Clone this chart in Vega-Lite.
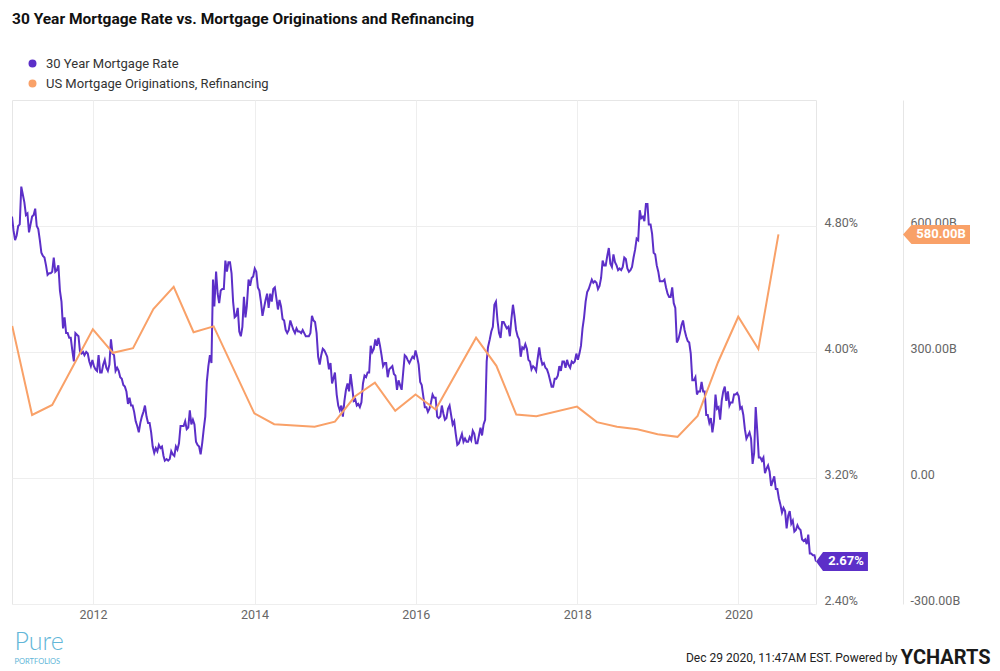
{
  "$schema": "https://vega.github.io/schema/vega-lite/v6.json",
  "width": 804,
  "height": 504,
  "autosize": {"type": "none"},
  "padding": {"left": 12, "top": 100, "right": 184, "bottom": 67},
  "background": "white",
  "config": {
    "view": {"stroke": "#e6e6e6", "strokeWidth": 1},
    "font": "Roboto"
  },
  "title": {
    "text": "30 Year Mortgage Rate vs. Mortgage Originations and Refinancing",
    "anchor": "start",
    "frame": "group",
    "font": "Roboto",
    "fontSize": 15.5,
    "fontWeight": "bold",
    "color": "#111111",
    "offset": 30
  },
  "datasets": {
    "rate": [
      {"date":"2010-12-30","rate":4.86},
      {"date":"2011-01-06","rate":4.77},{"date":"2011-01-13","rate":4.71},{"date":"2011-01-20","rate":4.74},{"date":"2011-01-27","rate":4.80},
      {"date":"2011-02-03","rate":4.81},{"date":"2011-02-10","rate":5.05},{"date":"2011-02-17","rate":5.00},{"date":"2011-02-24","rate":4.95},
      {"date":"2011-03-03","rate":4.87},{"date":"2011-03-10","rate":4.88},{"date":"2011-03-17","rate":4.76},{"date":"2011-03-24","rate":4.81},{"date":"2011-03-31","rate":4.86},
      {"date":"2011-04-07","rate":4.87},{"date":"2011-04-14","rate":4.91},{"date":"2011-04-21","rate":4.80},{"date":"2011-04-28","rate":4.78},
      {"date":"2011-05-05","rate":4.71},{"date":"2011-05-12","rate":4.63},{"date":"2011-05-19","rate":4.61},{"date":"2011-05-26","rate":4.60},
      {"date":"2011-06-02","rate":4.55},{"date":"2011-06-09","rate":4.49},{"date":"2011-06-16","rate":4.50},{"date":"2011-06-23","rate":4.50},{"date":"2011-06-30","rate":4.51},
      {"date":"2011-07-07","rate":4.60},{"date":"2011-07-14","rate":4.51},{"date":"2011-07-21","rate":4.52},{"date":"2011-07-28","rate":4.55},
      {"date":"2011-08-04","rate":4.39},{"date":"2011-08-11","rate":4.32},{"date":"2011-08-18","rate":4.15},{"date":"2011-08-25","rate":4.22},
      {"date":"2011-09-01","rate":4.12},{"date":"2011-09-08","rate":4.12},{"date":"2011-09-15","rate":4.09},{"date":"2011-09-22","rate":4.09},{"date":"2011-09-29","rate":4.01},
      {"date":"2011-10-06","rate":3.94},{"date":"2011-10-13","rate":4.12},{"date":"2011-10-20","rate":4.11},{"date":"2011-10-27","rate":4.10},
      {"date":"2011-11-03","rate":4.00},{"date":"2011-11-10","rate":3.99},{"date":"2011-11-17","rate":4.00},{"date":"2011-11-23","rate":3.98},
      {"date":"2011-12-01","rate":4.00},{"date":"2011-12-08","rate":3.99},{"date":"2011-12-15","rate":3.94},{"date":"2011-12-22","rate":3.91},{"date":"2011-12-29","rate":3.95},
      {"date":"2012-01-05","rate":3.91},{"date":"2012-01-12","rate":3.89},{"date":"2012-01-19","rate":3.88},{"date":"2012-01-26","rate":3.98},
      {"date":"2012-02-02","rate":3.87},{"date":"2012-02-09","rate":3.87},{"date":"2012-02-16","rate":3.92},{"date":"2012-02-23","rate":3.95},
      {"date":"2012-03-01","rate":3.90},{"date":"2012-03-08","rate":3.88},{"date":"2012-03-15","rate":3.92},{"date":"2012-03-22","rate":4.08},{"date":"2012-03-29","rate":3.99},
      {"date":"2012-04-05","rate":3.98},{"date":"2012-04-12","rate":3.88},{"date":"2012-04-19","rate":3.90},{"date":"2012-04-26","rate":3.88},
      {"date":"2012-05-03","rate":3.84},{"date":"2012-05-10","rate":3.83},{"date":"2012-05-17","rate":3.79},{"date":"2012-05-24","rate":3.78},{"date":"2012-05-31","rate":3.75},
      {"date":"2012-06-07","rate":3.67},{"date":"2012-06-14","rate":3.71},{"date":"2012-06-21","rate":3.66},{"date":"2012-06-28","rate":3.66},
      {"date":"2012-07-05","rate":3.62},{"date":"2012-07-12","rate":3.56},{"date":"2012-07-19","rate":3.53},{"date":"2012-07-26","rate":3.49},
      {"date":"2012-08-02","rate":3.55},{"date":"2012-08-09","rate":3.59},{"date":"2012-08-16","rate":3.62},{"date":"2012-08-23","rate":3.66},{"date":"2012-08-30","rate":3.59},
      {"date":"2012-09-06","rate":3.55},{"date":"2012-09-13","rate":3.55},{"date":"2012-09-20","rate":3.49},{"date":"2012-09-27","rate":3.40},
      {"date":"2012-10-04","rate":3.36},{"date":"2012-10-11","rate":3.39},{"date":"2012-10-18","rate":3.37},{"date":"2012-10-25","rate":3.41},
      {"date":"2012-11-01","rate":3.39},{"date":"2012-11-08","rate":3.40},{"date":"2012-11-15","rate":3.34},{"date":"2012-11-21","rate":3.31},{"date":"2012-11-29","rate":3.32},
      {"date":"2012-12-06","rate":3.31},{"date":"2012-12-13","rate":3.32},{"date":"2012-12-20","rate":3.37},{"date":"2012-12-27","rate":3.35},
      {"date":"2013-01-03","rate":3.34},{"date":"2013-01-10","rate":3.40},{"date":"2013-01-17","rate":3.38},{"date":"2013-01-24","rate":3.42},{"date":"2013-01-31","rate":3.53},
      {"date":"2013-02-07","rate":3.53},{"date":"2013-02-14","rate":3.53},{"date":"2013-02-21","rate":3.56},{"date":"2013-02-28","rate":3.51},
      {"date":"2013-03-07","rate":3.52},{"date":"2013-03-14","rate":3.63},{"date":"2013-03-21","rate":3.54},{"date":"2013-03-28","rate":3.57},
      {"date":"2013-04-04","rate":3.54},{"date":"2013-04-11","rate":3.43},{"date":"2013-04-18","rate":3.41},{"date":"2013-04-25","rate":3.40},
      {"date":"2013-05-02","rate":3.35},{"date":"2013-05-09","rate":3.42},{"date":"2013-05-16","rate":3.51},{"date":"2013-05-23","rate":3.59},{"date":"2013-05-30","rate":3.81},
      {"date":"2013-06-06","rate":3.91},{"date":"2013-06-13","rate":3.98},{"date":"2013-06-20","rate":3.93},{"date":"2013-06-27","rate":4.46},
      {"date":"2013-07-03","rate":4.29},{"date":"2013-07-11","rate":4.51},{"date":"2013-07-18","rate":4.37},{"date":"2013-07-25","rate":4.31},
      {"date":"2013-08-01","rate":4.39},{"date":"2013-08-08","rate":4.40},{"date":"2013-08-15","rate":4.40},{"date":"2013-08-22","rate":4.58},{"date":"2013-08-29","rate":4.51},
      {"date":"2013-09-05","rate":4.57},{"date":"2013-09-12","rate":4.57},{"date":"2013-09-19","rate":4.50},{"date":"2013-09-26","rate":4.32},
      {"date":"2013-10-03","rate":4.22},{"date":"2013-10-10","rate":4.23},{"date":"2013-10-17","rate":4.28},{"date":"2013-10-24","rate":4.13},{"date":"2013-10-31","rate":4.10},
      {"date":"2013-11-07","rate":4.16},{"date":"2013-11-14","rate":4.35},{"date":"2013-11-21","rate":4.22},{"date":"2013-11-27","rate":4.29},
      {"date":"2013-12-05","rate":4.46},{"date":"2013-12-12","rate":4.42},{"date":"2013-12-19","rate":4.47},{"date":"2013-12-26","rate":4.48},
      {"date":"2014-01-02","rate":4.53},{"date":"2014-01-09","rate":4.51},{"date":"2014-01-16","rate":4.41},{"date":"2014-01-23","rate":4.39},{"date":"2014-01-30","rate":4.32},
      {"date":"2014-02-06","rate":4.23},{"date":"2014-02-13","rate":4.28},{"date":"2014-02-20","rate":4.33},{"date":"2014-02-27","rate":4.37},
      {"date":"2014-03-06","rate":4.28},{"date":"2014-03-13","rate":4.37},{"date":"2014-03-20","rate":4.32},{"date":"2014-03-27","rate":4.40},
      {"date":"2014-04-03","rate":4.41},{"date":"2014-04-10","rate":4.34},{"date":"2014-04-17","rate":4.27},{"date":"2014-04-24","rate":4.33},
      {"date":"2014-05-01","rate":4.29},{"date":"2014-05-08","rate":4.21},{"date":"2014-05-15","rate":4.20},{"date":"2014-05-22","rate":4.14},{"date":"2014-05-29","rate":4.12},
      {"date":"2014-06-05","rate":4.14},{"date":"2014-06-12","rate":4.20},{"date":"2014-06-19","rate":4.17},{"date":"2014-06-26","rate":4.14},
      {"date":"2014-07-03","rate":4.12},{"date":"2014-07-10","rate":4.15},{"date":"2014-07-17","rate":4.13},{"date":"2014-07-24","rate":4.13},{"date":"2014-07-31","rate":4.12},
      {"date":"2014-08-07","rate":4.14},{"date":"2014-08-14","rate":4.12},{"date":"2014-08-21","rate":4.10},{"date":"2014-08-28","rate":4.10},
      {"date":"2014-09-04","rate":4.10},{"date":"2014-09-11","rate":4.12},{"date":"2014-09-18","rate":4.23},{"date":"2014-09-25","rate":4.20},
      {"date":"2014-10-02","rate":4.19},{"date":"2014-10-09","rate":4.12},{"date":"2014-10-16","rate":3.97},{"date":"2014-10-23","rate":3.92},{"date":"2014-10-30","rate":3.98},
      {"date":"2014-11-06","rate":4.02},{"date":"2014-11-13","rate":4.01},{"date":"2014-11-20","rate":3.99},{"date":"2014-11-26","rate":3.97},
      {"date":"2014-12-04","rate":3.89},{"date":"2014-12-11","rate":3.93},{"date":"2014-12-18","rate":3.80},{"date":"2014-12-24","rate":3.83},{"date":"2014-12-31","rate":3.87},
      {"date":"2015-01-08","rate":3.73},{"date":"2015-01-15","rate":3.66},{"date":"2015-01-22","rate":3.63},{"date":"2015-01-29","rate":3.66},
      {"date":"2015-02-05","rate":3.59},{"date":"2015-02-12","rate":3.69},{"date":"2015-02-19","rate":3.76},{"date":"2015-02-26","rate":3.80},
      {"date":"2015-03-05","rate":3.75},{"date":"2015-03-12","rate":3.86},{"date":"2015-03-19","rate":3.78},{"date":"2015-03-26","rate":3.69},
      {"date":"2015-04-02","rate":3.70},{"date":"2015-04-09","rate":3.66},{"date":"2015-04-16","rate":3.67},{"date":"2015-04-23","rate":3.65},{"date":"2015-04-30","rate":3.68},
      {"date":"2015-05-07","rate":3.80},{"date":"2015-05-14","rate":3.85},{"date":"2015-05-21","rate":3.84},{"date":"2015-05-28","rate":3.87},
      {"date":"2015-06-04","rate":3.87},{"date":"2015-06-11","rate":4.04},{"date":"2015-06-18","rate":4.00},{"date":"2015-06-25","rate":4.02},
      {"date":"2015-07-02","rate":4.08},{"date":"2015-07-09","rate":4.04},{"date":"2015-07-16","rate":4.09},{"date":"2015-07-23","rate":4.04},{"date":"2015-07-30","rate":3.98},
      {"date":"2015-08-06","rate":3.91},{"date":"2015-08-13","rate":3.93},{"date":"2015-08-20","rate":3.93},{"date":"2015-08-27","rate":3.84},
      {"date":"2015-09-03","rate":3.89},{"date":"2015-09-10","rate":3.90},{"date":"2015-09-17","rate":3.91},{"date":"2015-09-24","rate":3.86},
      {"date":"2015-10-01","rate":3.85},{"date":"2015-10-08","rate":3.76},{"date":"2015-10-15","rate":3.82},{"date":"2015-10-22","rate":3.79},{"date":"2015-10-29","rate":3.76},
      {"date":"2015-11-05","rate":3.87},{"date":"2015-11-12","rate":3.98},{"date":"2015-11-19","rate":3.97},{"date":"2015-11-25","rate":3.95},
      {"date":"2015-12-03","rate":3.93},{"date":"2015-12-10","rate":3.95},{"date":"2015-12-17","rate":3.97},{"date":"2015-12-24","rate":3.96},{"date":"2015-12-31","rate":4.01},
      {"date":"2016-01-07","rate":3.97},{"date":"2016-01-14","rate":3.92},{"date":"2016-01-21","rate":3.81},{"date":"2016-01-28","rate":3.79},
      {"date":"2016-02-04","rate":3.72},{"date":"2016-02-11","rate":3.65},{"date":"2016-02-18","rate":3.65},{"date":"2016-02-25","rate":3.62},
      {"date":"2016-03-03","rate":3.64},{"date":"2016-03-10","rate":3.68},{"date":"2016-03-17","rate":3.73},{"date":"2016-03-24","rate":3.71},{"date":"2016-03-31","rate":3.71},
      {"date":"2016-04-07","rate":3.59},{"date":"2016-04-14","rate":3.58},{"date":"2016-04-21","rate":3.59},{"date":"2016-04-28","rate":3.66},
      {"date":"2016-05-05","rate":3.61},{"date":"2016-05-12","rate":3.57},{"date":"2016-05-19","rate":3.58},{"date":"2016-05-26","rate":3.64},
      {"date":"2016-06-02","rate":3.66},{"date":"2016-06-09","rate":3.60},{"date":"2016-06-16","rate":3.54},{"date":"2016-06-23","rate":3.56},{"date":"2016-06-30","rate":3.48},
      {"date":"2016-07-07","rate":3.41},{"date":"2016-07-14","rate":3.42},{"date":"2016-07-21","rate":3.45},{"date":"2016-07-28","rate":3.48},
      {"date":"2016-08-04","rate":3.43},{"date":"2016-08-11","rate":3.45},{"date":"2016-08-18","rate":3.43},{"date":"2016-08-25","rate":3.43},
      {"date":"2016-09-01","rate":3.46},{"date":"2016-09-08","rate":3.44},{"date":"2016-09-15","rate":3.50},{"date":"2016-09-22","rate":3.48},{"date":"2016-09-29","rate":3.42},
      {"date":"2016-10-06","rate":3.42},{"date":"2016-10-13","rate":3.47},{"date":"2016-10-20","rate":3.52},{"date":"2016-10-27","rate":3.47},
      {"date":"2016-11-03","rate":3.54},{"date":"2016-11-10","rate":3.57},{"date":"2016-11-17","rate":3.94},{"date":"2016-11-23","rate":4.03},
      {"date":"2016-12-01","rate":4.08},{"date":"2016-12-08","rate":4.13},{"date":"2016-12-15","rate":4.16},{"date":"2016-12-22","rate":4.30},{"date":"2016-12-29","rate":4.32},
      {"date":"2017-01-05","rate":4.20},{"date":"2017-01-12","rate":4.12},{"date":"2017-01-19","rate":4.09},{"date":"2017-01-26","rate":4.19},
      {"date":"2017-02-02","rate":4.19},{"date":"2017-02-09","rate":4.17},{"date":"2017-02-16","rate":4.15},{"date":"2017-02-23","rate":4.16},
      {"date":"2017-03-02","rate":4.10},{"date":"2017-03-09","rate":4.21},{"date":"2017-03-16","rate":4.30},{"date":"2017-03-23","rate":4.23},{"date":"2017-03-30","rate":4.14},
      {"date":"2017-04-06","rate":4.10},{"date":"2017-04-13","rate":4.08},{"date":"2017-04-20","rate":3.97},{"date":"2017-04-27","rate":4.03},
      {"date":"2017-05-04","rate":4.02},{"date":"2017-05-11","rate":4.05},{"date":"2017-05-18","rate":4.02},{"date":"2017-05-25","rate":3.95},
      {"date":"2017-06-01","rate":3.94},{"date":"2017-06-08","rate":3.89},{"date":"2017-06-15","rate":3.91},{"date":"2017-06-22","rate":3.90},{"date":"2017-06-29","rate":3.88},
      {"date":"2017-07-06","rate":3.96},{"date":"2017-07-13","rate":4.03},{"date":"2017-07-20","rate":3.96},{"date":"2017-07-27","rate":3.92},
      {"date":"2017-08-03","rate":3.93},{"date":"2017-08-10","rate":3.90},{"date":"2017-08-17","rate":3.89},{"date":"2017-08-24","rate":3.86},{"date":"2017-08-31","rate":3.82},
      {"date":"2017-09-07","rate":3.78},{"date":"2017-09-14","rate":3.78},{"date":"2017-09-21","rate":3.83},{"date":"2017-09-28","rate":3.83},
      {"date":"2017-10-05","rate":3.85},{"date":"2017-10-12","rate":3.91},{"date":"2017-10-19","rate":3.88},{"date":"2017-10-26","rate":3.94},
      {"date":"2017-11-02","rate":3.94},{"date":"2017-11-09","rate":3.90},{"date":"2017-11-16","rate":3.95},{"date":"2017-11-22","rate":3.92},{"date":"2017-11-30","rate":3.90},
      {"date":"2017-12-07","rate":3.94},{"date":"2017-12-14","rate":3.93},{"date":"2017-12-21","rate":3.94},{"date":"2017-12-28","rate":3.99},
      {"date":"2018-01-04","rate":3.95},{"date":"2018-01-11","rate":3.99},{"date":"2018-01-18","rate":4.04},{"date":"2018-01-25","rate":4.15},
      {"date":"2018-02-01","rate":4.22},{"date":"2018-02-08","rate":4.32},{"date":"2018-02-15","rate":4.38},{"date":"2018-02-22","rate":4.40},
      {"date":"2018-03-01","rate":4.43},{"date":"2018-03-08","rate":4.46},{"date":"2018-03-15","rate":4.44},{"date":"2018-03-22","rate":4.45},{"date":"2018-03-29","rate":4.44},
      {"date":"2018-04-05","rate":4.40},{"date":"2018-04-12","rate":4.42},{"date":"2018-04-19","rate":4.47},{"date":"2018-04-26","rate":4.58},
      {"date":"2018-05-03","rate":4.55},{"date":"2018-05-10","rate":4.55},{"date":"2018-05-17","rate":4.61},{"date":"2018-05-24","rate":4.66},{"date":"2018-05-31","rate":4.56},
      {"date":"2018-06-07","rate":4.54},{"date":"2018-06-14","rate":4.62},{"date":"2018-06-21","rate":4.57},{"date":"2018-06-28","rate":4.55},
      {"date":"2018-07-05","rate":4.52},{"date":"2018-07-12","rate":4.53},{"date":"2018-07-19","rate":4.52},{"date":"2018-07-26","rate":4.54},
      {"date":"2018-08-02","rate":4.60},{"date":"2018-08-09","rate":4.59},{"date":"2018-08-16","rate":4.53},{"date":"2018-08-23","rate":4.51},{"date":"2018-08-30","rate":4.52},
      {"date":"2018-09-06","rate":4.54},{"date":"2018-09-13","rate":4.60},{"date":"2018-09-20","rate":4.65},{"date":"2018-09-27","rate":4.72},
      {"date":"2018-10-04","rate":4.71},{"date":"2018-10-11","rate":4.90},{"date":"2018-10-18","rate":4.85},{"date":"2018-10-25","rate":4.86},
      {"date":"2018-11-01","rate":4.83},{"date":"2018-11-08","rate":4.94},{"date":"2018-11-15","rate":4.94},{"date":"2018-11-21","rate":4.81},{"date":"2018-11-29","rate":4.81},
      {"date":"2018-12-06","rate":4.75},{"date":"2018-12-13","rate":4.63},{"date":"2018-12-20","rate":4.62},{"date":"2018-12-27","rate":4.55},
      {"date":"2019-01-03","rate":4.51},{"date":"2019-01-10","rate":4.45},{"date":"2019-01-17","rate":4.45},{"date":"2019-01-24","rate":4.45},{"date":"2019-01-31","rate":4.46},
      {"date":"2019-02-07","rate":4.41},{"date":"2019-02-14","rate":4.37},{"date":"2019-02-21","rate":4.35},{"date":"2019-02-28","rate":4.35},
      {"date":"2019-03-07","rate":4.41},{"date":"2019-03-14","rate":4.31},{"date":"2019-03-21","rate":4.28},{"date":"2019-03-28","rate":4.06},
      {"date":"2019-04-04","rate":4.08},{"date":"2019-04-11","rate":4.12},{"date":"2019-04-18","rate":4.17},{"date":"2019-04-25","rate":4.20},
      {"date":"2019-05-02","rate":4.14},{"date":"2019-05-09","rate":4.10},{"date":"2019-05-16","rate":4.07},{"date":"2019-05-23","rate":4.06},{"date":"2019-05-30","rate":3.99},
      {"date":"2019-06-06","rate":3.82},{"date":"2019-06-13","rate":3.82},{"date":"2019-06-20","rate":3.84},{"date":"2019-06-27","rate":3.73},
      {"date":"2019-07-03","rate":3.75},{"date":"2019-07-11","rate":3.75},{"date":"2019-07-18","rate":3.81},{"date":"2019-07-25","rate":3.75},
      {"date":"2019-08-01","rate":3.75},{"date":"2019-08-08","rate":3.60},{"date":"2019-08-15","rate":3.60},{"date":"2019-08-22","rate":3.55},{"date":"2019-08-29","rate":3.58},
      {"date":"2019-09-05","rate":3.49},{"date":"2019-09-12","rate":3.56},{"date":"2019-09-19","rate":3.73},{"date":"2019-09-26","rate":3.64},
      {"date":"2019-10-03","rate":3.65},{"date":"2019-10-10","rate":3.57},{"date":"2019-10-17","rate":3.69},{"date":"2019-10-24","rate":3.75},{"date":"2019-10-31","rate":3.78},
      {"date":"2019-11-07","rate":3.69},{"date":"2019-11-14","rate":3.75},{"date":"2019-11-21","rate":3.66},{"date":"2019-11-27","rate":3.68},
      {"date":"2019-12-05","rate":3.68},{"date":"2019-12-12","rate":3.73},{"date":"2019-12-19","rate":3.73},{"date":"2019-12-26","rate":3.74},
      {"date":"2020-01-02","rate":3.72},{"date":"2020-01-09","rate":3.64},{"date":"2020-01-16","rate":3.65},{"date":"2020-01-23","rate":3.60},{"date":"2020-01-30","rate":3.51},
      {"date":"2020-02-06","rate":3.45},{"date":"2020-02-13","rate":3.47},{"date":"2020-02-20","rate":3.49},{"date":"2020-02-27","rate":3.45},
      {"date":"2020-03-05","rate":3.29},{"date":"2020-03-12","rate":3.36},{"date":"2020-03-19","rate":3.65},{"date":"2020-03-26","rate":3.50},
      {"date":"2020-04-02","rate":3.33},{"date":"2020-04-09","rate":3.33},{"date":"2020-04-16","rate":3.31},{"date":"2020-04-23","rate":3.33},{"date":"2020-04-30","rate":3.23},
      {"date":"2020-05-07","rate":3.26},{"date":"2020-05-14","rate":3.28},{"date":"2020-05-21","rate":3.24},{"date":"2020-05-28","rate":3.15},
      {"date":"2020-06-04","rate":3.18},{"date":"2020-06-11","rate":3.21},{"date":"2020-06-18","rate":3.13},{"date":"2020-06-25","rate":3.13},
      {"date":"2020-07-02","rate":3.07},{"date":"2020-07-09","rate":3.03},{"date":"2020-07-16","rate":2.98},{"date":"2020-07-23","rate":3.01},{"date":"2020-07-30","rate":2.99},
      {"date":"2020-08-06","rate":2.88},{"date":"2020-08-13","rate":2.96},{"date":"2020-08-20","rate":2.99},{"date":"2020-08-27","rate":2.91},
      {"date":"2020-09-03","rate":2.93},{"date":"2020-09-10","rate":2.86},{"date":"2020-09-17","rate":2.87},{"date":"2020-09-24","rate":2.90},
      {"date":"2020-10-01","rate":2.88},{"date":"2020-10-08","rate":2.87},{"date":"2020-10-15","rate":2.81},{"date":"2020-10-22","rate":2.80},{"date":"2020-10-29","rate":2.81},
      {"date":"2020-11-05","rate":2.78},{"date":"2020-11-12","rate":2.84},{"date":"2020-11-19","rate":2.72},{"date":"2020-11-25","rate":2.72},
      {"date":"2020-12-03","rate":2.71},{"date":"2020-12-10","rate":2.71},{"date":"2020-12-17","rate":2.67}
    ],
    "refi": [
      {"date":"2010-12-31","refi":362},
      {"date":"2011-03-31","refi":150},
      {"date":"2011-06-30","refi":174},
      {"date":"2011-12-31","refi":354},
      {"date":"2012-03-31","refi":298},
      {"date":"2012-06-30","refi":309},
      {"date":"2012-09-30","refi":402},
      {"date":"2012-12-31","refi":455},
      {"date":"2013-03-31","refi":347},
      {"date":"2013-06-30","refi":361},
      {"date":"2013-12-31","refi":154},
      {"date":"2014-03-31","refi":128},
      {"date":"2014-09-30","refi":122},
      {"date":"2014-12-31","refi":134},
      {"date":"2015-03-31","refi":194},
      {"date":"2015-06-30","refi":227},
      {"date":"2015-09-30","refi":160},
      {"date":"2015-12-31","refi":199},
      {"date":"2016-03-31","refi":163},
      {"date":"2016-09-30","refi":334},
      {"date":"2016-12-31","refi":267},
      {"date":"2017-03-31","refi":151},
      {"date":"2017-06-30","refi":147},
      {"date":"2017-12-31","refi":170},
      {"date":"2018-03-31","refi":133},
      {"date":"2018-06-30","refi":122},
      {"date":"2018-09-30","refi":116},
      {"date":"2018-12-31","refi":104},
      {"date":"2019-03-31","refi":98},
      {"date":"2019-06-30","refi":148},
      {"date":"2019-09-30","refi":275},
      {"date":"2019-12-31","refi":384},
      {"date":"2020-03-31","refi":307},
      {"date":"2020-06-30","refi":580}
    ]
  },
  "resolve": {"scale": {"y": "independent"}, "axis": {"x": "independent"}},
  "layer": [
    {
      "data": {"name": "rate"},
      "mark": {"type": "line", "strokeWidth": 2, "clip": true},
      "encoding": {
        "x": {
          "field": "date", "type": "temporal",
          "scale": {"type": "utc", "domain": [{"year": 2010, "month": 12, "date": 30, "utc": true}, {"year": 2020, "month": 12, "date": 17, "utc": true}]},
          "axis": {
            "values": [{"year": 2012, "utc": true}, {"year": 2014, "utc": true}, {"year": 2016, "utc": true}, {"year": 2018, "utc": true}, {"year": 2020, "utc": true}],
            "format": "%Y", "grid": true, "gridColor": "#eeeeee", "ticks": false, "domain": false,
            "labelFont": "Roboto", "labelFontSize": 12.5, "labelColor": "#666666", "labelPadding": 4,
            "title": "Dec 29 2020, 11:47AM EST. Powered by",
            "titleFont": "Liberation Sans Narrow, Roboto", "titleFontSize": 12, "titleFontWeight": "normal", "titleColor": "#222222",
            "titleX": 885, "titleY": 53, "titleAlign": "right", "titleBaseline": "middle", "titleAnchor": null
          }
        },
        "y": {
          "field": "rate", "type": "quantitative",
          "scale": {"domain": [2.4, 5.6], "nice": false, "zero": false},
          "axis": {
            "orient": "right", "values": [2.4, 3.2, 4.0, 4.8],
            "labelExpr": "format(datum.value, '.2f') + '%'",
            "grid": true, "gridColor": "#eeeeee", "ticks": false, "domain": false,
            "labelFont": "Roboto", "labelFontSize": 12.5, "labelColor": "#666666", "labelPadding": 8, "labelBaseline": "alphabetic",
            "title": "Pure", "titleFont": "Lato", "titleFontWeight": 300, "titleFontSize": 25, "titleColor": "#62b6d8",
            "titleAngle": 0, "titleAlign": "left", "titleBaseline": "middle", "titleX": -802, "titleY": 541
          }
        },
        "color": {
          "datum": "30 Year Mortgage Rate",
          "scale": {"domain": ["30 Year Mortgage Rate", "US Mortgage Originations, Refinancing"], "range": ["#5c2fc8", "#f9a168"]},
          "legend": {
            "orient": "none", "legendX": 14, "legendY": -43, "title": null, "direction": "vertical",
            "symbolType": "circle", "symbolSize": 16, "symbolStrokeWidth": 4,
            "labelFont": "Roboto", "labelFontSize": 13, "labelColor": "#333333", "labelOffset": 7, "rowPadding": -1, "labelLimit": 400
          }
        }
      }
    },
    {
      "data": {"name": "refi"},
      "mark": {"type": "line", "strokeWidth": 2, "clip": true},
      "encoding": {
        "x": {
          "field": "date", "type": "temporal",
          "axis": {
            "orient": "bottom", "labels": false, "ticks": false, "domain": false, "grid": false,
            "title": "YCHARTS", "titleFont": "Roboto", "titleFontSize": 20, "titleFontWeight": "bold", "titleColor": "#1a1a1a",
            "titleX": 978, "titleY": 53, "titleAlign": "right", "titleBaseline": "middle", "titleAnchor": null
          }
        },
        "y": {
          "field": "refi", "type": "quantitative",
          "scale": {"domain": [-300, 900], "nice": false, "zero": false},
          "axis": {
            "orient": "right", "offset": 87, "values": [-300, 0, 300, 600],
            "labelExpr": "datum.value < 0 ? '-' + format(-datum.value, '.2f') + 'B' : (datum.value == 0 ? '0.00' : format(datum.value, '.2f') + 'B')",
            "grid": false, "ticks": false, "domain": true, "domainColor": "#e6e6e6", "domainWidth": 1,
            "labelFont": "Roboto", "labelFontSize": 12.5, "labelColor": "#666666", "labelPadding": 7, "labelBaseline": "alphabetic",
            "title": "PORTFOLIOS", "titleFont": "Lato", "titleFontWeight": "normal", "titleFontSize": 7.5, "titleColor": "#62b6d8",
            "titleAngle": 0, "titleAlign": "left", "titleBaseline": "middle", "titleX": -889, "titleY": 561
          }
        },
        "color": {"datum": "US Mortgage Originations, Refinancing"}
      }
    },
    {
      "data": {"name": "rate"},
      "transform": [{"filter": {"field": "date", "equal": {"year": 2020, "month": 12, "date": 17, "utc": true}}}],
      "mark": {"type": "point", "shape": "M0,0L0.74,-1L5.47,-1L5.47,1L0.74,1Z", "filled": true, "fill": "#5c2fc8", "strokeWidth": 0, "size": 361, "opacity": 1},
      "encoding": {
        "x": {"field": "date", "type": "temporal", "axis": null},
        "y": {"field": "rate", "type": "quantitative", "scale": {"domain": [2.4, 5.6], "nice": false, "zero": false}, "axis": null}
      }
    },
    {
      "data": {"name": "rate"},
      "transform": [{"filter": {"field": "date", "equal": {"year": 2020, "month": 12, "date": 17, "utc": true}}}],
      "mark": {"type": "text", "color": "white", "font": "Roboto", "fontWeight": "bold", "fontSize": 13, "dx": 30, "align": "center", "baseline": "middle"},
      "encoding": {
        "x": {"field": "date", "type": "temporal", "axis": null},
        "y": {"field": "rate", "type": "quantitative", "scale": {"domain": [2.4, 5.6], "nice": false, "zero": false}, "axis": null},
        "text": {"value": "2.67%"}
      }
    },
    {
      "data": {"name": "refi"},
      "transform": [{"filter": {"field": "date", "equal": {"year": 2020, "month": 6, "date": 30, "utc": true}}}],
      "mark": {"type": "point", "shape": "M9.16,0L10.05,-1L16.21,-1L16.21,1L10.05,1Z", "filled": true, "fill": "#f9a168", "strokeWidth": 0, "size": 361, "opacity": 1},
      "encoding": {
        "x": {"datum": {"year": 2020, "month": 12, "date": 17, "utc": true}, "type": "temporal", "axis": null},
        "y": {"field": "refi", "type": "quantitative", "scale": {"domain": [-300, 900], "nice": false, "zero": false}, "axis": null}
      }
    },
    {
      "data": {"name": "refi"},
      "transform": [{"filter": {"field": "date", "equal": {"year": 2020, "month": 6, "date": 30, "utc": true}}}],
      "mark": {"type": "text", "color": "white", "font": "Roboto", "fontWeight": "bold", "fontSize": 13, "dx": 125, "align": "center", "baseline": "middle"},
      "encoding": {
        "x": {"datum": {"year": 2020, "month": 12, "date": 17, "utc": true}, "type": "temporal", "axis": null},
        "y": {"field": "refi", "type": "quantitative", "scale": {"domain": [-300, 900], "nice": false, "zero": false}, "axis": null},
        "text": {"value": "580.00B"}
      }
    }
  ]
}
